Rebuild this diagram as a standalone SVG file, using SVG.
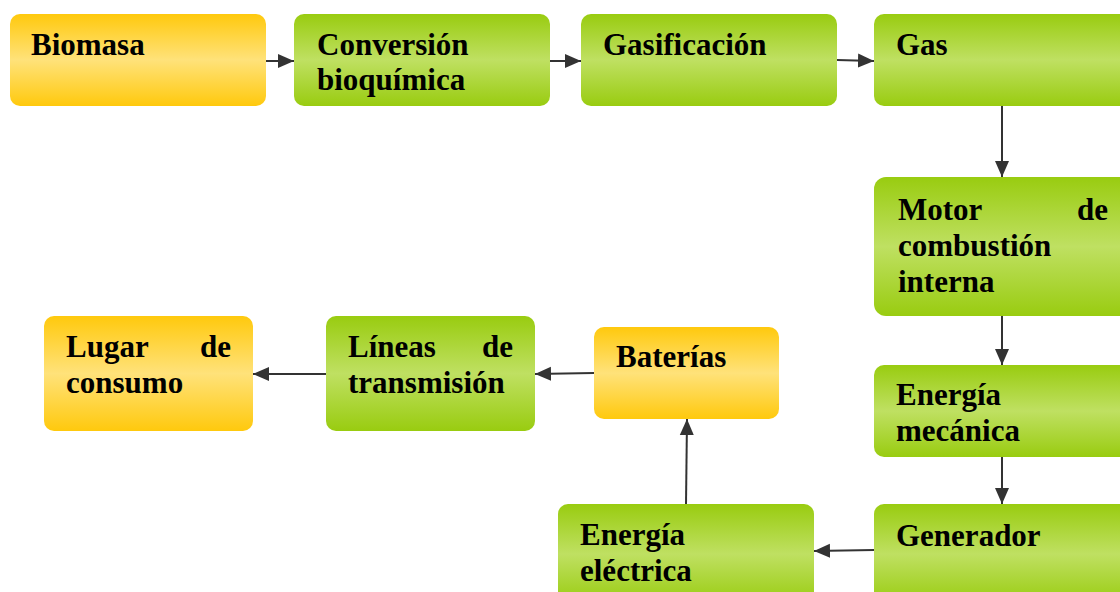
<svg xmlns="http://www.w3.org/2000/svg" width="1120" height="592" viewBox="0 0 1120 592">
<defs>
<linearGradient id="gy" x1="0" y1="0" x2="0" y2="1">
<stop offset="0" stop-color="#ffc90d"/>
<stop offset="0.5" stop-color="#ffe27a"/>
<stop offset="1" stop-color="#ffc90d"/>
</linearGradient>
<linearGradient id="gg" x1="0" y1="0" x2="0" y2="1">
<stop offset="0" stop-color="#99cc10"/>
<stop offset="0.5" stop-color="#bfe062"/>
<stop offset="1" stop-color="#99cc10"/>
</linearGradient>
<marker id="ah" markerWidth="8" markerHeight="8" refX="7.5" refY="4" orient="auto" markerUnits="userSpaceOnUse" viewBox="0 0 8 8">
<path d="M0,0 L8,4 L0,8 Z" fill="#333"/>
</marker>
<marker id="a" viewBox="0 0 16 16" refX="16" refY="8" markerWidth="16" markerHeight="16" markerUnits="userSpaceOnUse" orient="auto">
<path d="M0,1 L16,8 L0,15 Z" fill="#333333"/>
</marker>
</defs>
<style>
.y{fill:url(#gy);}
.g{fill:url(#gg);}
text{font-family:"Liberation Serif","Times New Roman",serif;font-weight:bold;font-size:31px;fill:#000;}
.e{text-anchor:end;}
.c{stroke:#333333;stroke-width:2;fill:none;marker-end:url(#a);}
</style>
<rect width="1120" height="592" fill="#fff"/>
<g id="connectors">
<line class="c" x1="266" y1="61" x2="294" y2="61"/>
<line class="c" x1="550" y1="61" x2="581" y2="61"/>
<line class="c" x1="837" y1="60" x2="874" y2="61"/>
<line class="c" x1="1002" y1="106" x2="1002" y2="177"/>
<line class="c" x1="1002" y1="316" x2="1002" y2="365"/>
<line class="c" x1="1002" y1="457" x2="1002" y2="504"/>
<line class="c" x1="874" y1="550" x2="814" y2="551"/>
<line class="c" x1="686" y1="504" x2="687" y2="419"/>
<line class="c" x1="594" y1="373" x2="535" y2="374"/>
<line class="c" x1="326" y1="374" x2="253" y2="374"/>
</g>
<g id="biomasa">
<rect class="y" x="10" y="14" width="256" height="92" rx="10"/>
<text x="31" y="55">Biomasa</text>
</g>
<g id="conversion">
<rect class="g" x="294" y="14" width="256" height="92" rx="10"/>
<text x="317" y="55">Conversión</text>
<text x="317" y="90">bioquímica</text>
</g>
<g id="gasificacion">
<rect class="g" x="581" y="14" width="256" height="92" rx="10"/>
<text x="603" y="55">Gasificación</text>
</g>
<g id="gas">
<rect class="g" x="874" y="14" width="260" height="92" rx="10"/>
<text x="896" y="55">Gas</text>
</g>
<g id="motor">
<rect class="g" x="874" y="177" width="260" height="139" rx="12"/>
<text x="898" y="220">Motor</text>
<text class="e" x="1108" y="220">de</text>
<text x="898" y="256">combustión</text>
<text x="898" y="292">interna</text>
</g>
<g id="mecanica">
<rect class="g" x="874" y="365" width="260" height="92" rx="10"/>
<text x="896" y="405">Energía</text>
<text x="896" y="441">mecánica</text>
</g>
<g id="generador">
<rect class="g" x="874" y="504" width="260" height="100" rx="10"/>
<text x="896" y="546">Generador</text>
</g>
<g id="electrica">
<rect class="g" x="558" y="504" width="256" height="100" rx="10"/>
<text x="580" y="545">Energía</text>
<text x="580" y="581">eléctrica</text>
</g>
<g id="baterias">
<rect class="y" x="594" y="327" width="185" height="92" rx="10"/>
<text x="616" y="367">Baterías</text>
</g>
<g id="lineas">
<rect class="g" x="326" y="316" width="209" height="115" rx="10"/>
<text x="348" y="357">Líneas</text>
<text class="e" x="513" y="357">de</text>
<text x="348" y="393">transmisión</text>
</g>
<g id="lugar">
<rect class="y" x="44" y="316" width="209" height="115" rx="10"/>
<text x="66" y="357">Lugar</text>
<text class="e" x="231" y="357">de</text>
<text x="66" y="393">consumo</text>
</g>
</svg>
